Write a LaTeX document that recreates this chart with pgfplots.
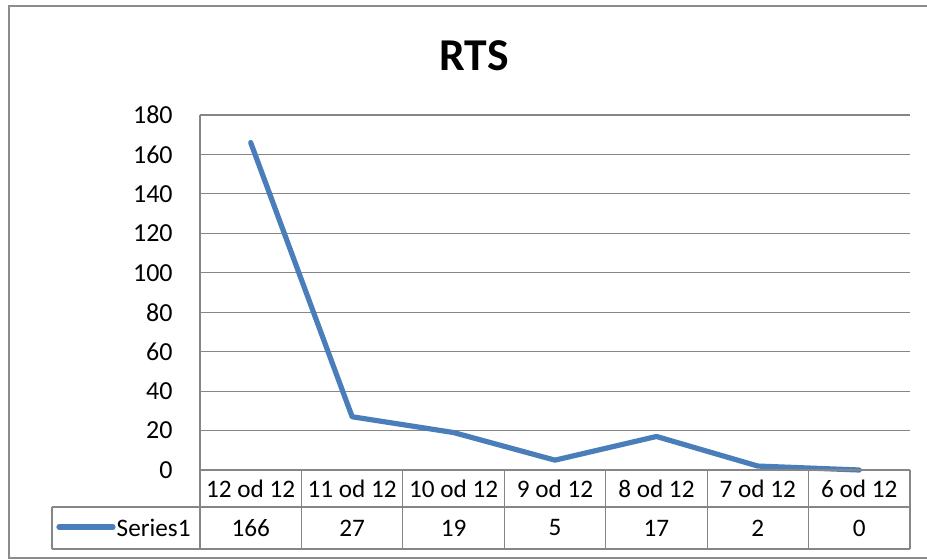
\documentclass[border=0pt]{standalone}
\usepackage{pgfplots}
\pgfplotsset{compat=1.18}
\usepackage{fontspec}
\setmainfont{Carlito}
\definecolor{excelblue}{RGB}{74,126,187}
\definecolor{gridgray}{RGB}{134,134,134}
\definecolor{framegray}{RGB}{140,140,140}
\begin{document}
\begin{tikzpicture}
\path[use as bounding box] (0,0) rectangle (463.5pt,279.5pt);
\begin{scope}
\clip (0,0) rectangle (463.5pt,279.5pt);
\draw[framegray, line width=1pt] (4.25pt,0.5pt) rectangle (466pt,276.5pt);
\end{scope}
\node[font=\fontsize{22.8}{25}\selectfont\bfseries] at (237pt,251.5pt) {RTS};
\begin{axis}[
  at={(100pt,44.5pt)}, anchor=south west,
  scale only axis, width=355pt, height=177.5pt,
  xmin=-0.5, xmax=6.5, ymin=0, ymax=180,
  clip=false,
  axis line style={draw=none},
  ytick={0,20,...,180},
  ymajorgrids, grid style={gridgray, line width=0.6pt},
  major tick length=0pt,
  xtick={0,...,6},
  xticklabels={12 od 12,11 od 12,10 od 12,9 od 12,8 od 12,7 od 12,6 od 12},
  xticklabel style={anchor=center, inner sep=0pt, yshift=-9.4pt, font=\fontsize{12.6}{14}\selectfont},
  yticklabel style={anchor=east, inner sep=0pt, xshift=-13.5pt, font=\fontsize{13.0}{14}\selectfont},
  /pgf/number format/assume math mode=true,
]
\addplot[excelblue, line width=2.6pt, line join=round, line cap=round, mark=none]
  coordinates {(0,166) (1,27) (2,19) (3,5) (4,17) (5,2) (6,0)};
\addplot[draw=none, mark=none, nodes near coords, point meta=explicit symbolic,
  nodes near coords style={anchor=center, inner sep=0pt, font=\fontsize{12.6}{14}\selectfont}]
  coordinates {(0,-29.4)[166] (1,-29.4)[27] (2,-29.4)[19] (3,-29.4)[5] (4,-29.4)[17] (5,-29.4)[2] (6,-29.4)[0]};
\end{axis}
% data table grid
\begin{scope}[gridgray, line width=0.6pt]
\draw (100pt,222pt) -- (100pt,5pt);
\draw (100pt,44.5pt) -- (455pt,44.5pt);
\draw (26pt,26pt) -- (455pt,26pt);
\draw (26pt,5pt) -- (455pt,5pt);
\draw (26pt,26pt) -- (26pt,5pt);
\foreach \x in {150.71,201.43,252.14,302.86,353.57,404.29,455} {
  \draw (\x pt,44.5pt) -- (\x pt,5pt);
}
\end{scope}
\draw[excelblue, line width=2.6pt, line cap=round] (29.5pt,16pt) -- (56.5pt,16pt);
\node[anchor=east, inner sep=0pt, font=\fontsize{12.6}{14}\selectfont] at (95.5pt,15.5pt) {Series1};
\end{tikzpicture}
\end{document}
